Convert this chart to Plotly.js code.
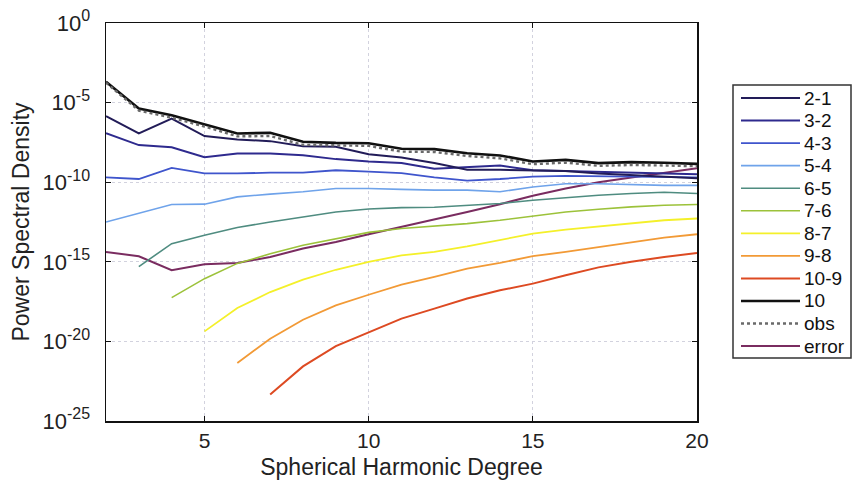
<!DOCTYPE html>
<html>
<head>
<meta charset="utf-8">
<script src="https://cdn.plot.ly/plotly-3.0.1.min.js"></script>
<style>html,body{margin:0;padding:0;background:#fff;}#chart{width:853px;height:485px;}</style>
</head>
<body>
<div id="chart"></div>
<script>
// Spherical harmonic degrees
const degrees = [2,3,4,5,6,7,8,9,10,11,12,13,14,15,16,17,18,19,20];

// Series values given as log10 of the power spectral density (null = not drawn)
const log_2_1  = [-5.85,-6.94,-6.00,-7.10,-7.32,-7.42,-7.74,-7.78,-8.24,-8.45,-8.80,-9.22,-9.22,-9.28,-9.30,-9.45,-9.55,-9.65,-9.75];
const log_3_2  = [-6.92,-7.67,-7.80,-8.43,-8.20,-8.20,-8.30,-8.55,-8.70,-8.80,-9.16,-9.07,-8.95,-9.25,-9.30,-9.35,-9.40,-9.45,-9.50];
const log_4_3  = [-9.70,-9.80,-9.10,-9.45,-9.45,-9.40,-9.40,-9.25,-9.33,-9.43,-9.70,-9.90,-9.80,-9.65,-9.60,-9.62,-9.65,-9.68,-9.70];
const log_5_4  = [-12.50,-11.95,-11.40,-11.38,-10.92,-10.75,-10.60,-10.40,-10.40,-10.45,-10.50,-10.50,-10.60,-10.30,-10.10,-10.10,-10.15,-10.20,-10.20];
const log_6_5  = [null,-15.30,-13.86,-13.33,-12.85,-12.50,-12.18,-11.87,-11.68,-11.60,-11.57,-11.45,-11.34,-11.13,-10.96,-10.82,-10.71,-10.63,-10.71];
const log_7_6  = [null,null,-17.25,-16.06,-15.10,-14.50,-13.96,-13.55,-13.15,-12.91,-12.77,-12.60,-12.39,-12.14,-11.87,-11.70,-11.55,-11.45,-11.40];
const log_8_7  = [null,null,null,-19.37,-17.90,-16.90,-16.12,-15.50,-15.00,-14.60,-14.38,-14.03,-13.65,-13.23,-12.98,-12.77,-12.56,-12.39,-12.28];
const log_9_8  = [null,null,null,null,-21.36,-19.83,-18.64,-17.74,-17.07,-16.44,-15.95,-15.43,-15.07,-14.65,-14.38,-14.07,-13.75,-13.48,-13.27];
const log_10_9 = [null,null,null,null,null,-23.33,-21.57,-20.30,-19.41,-18.57,-17.94,-17.31,-16.79,-16.37,-15.85,-15.35,-15.00,-14.70,-14.45];
const log_10   = [-3.69,-5.37,-5.79,-6.37,-6.94,-6.90,-7.46,-7.53,-7.55,-7.90,-7.92,-8.18,-8.32,-8.70,-8.60,-8.80,-8.74,-8.78,-8.85];
const log_obs  = [-3.75,-5.50,-5.95,-6.50,-7.12,-7.10,-7.65,-7.70,-7.72,-8.08,-8.10,-8.35,-8.50,-8.87,-8.77,-8.97,-8.92,-8.95,-9.00];
const log_err  = [-14.38,-14.65,-15.53,-15.16,-15.07,-14.70,-14.17,-13.75,-13.27,-12.81,-12.35,-11.87,-11.38,-10.85,-10.40,-10.00,-9.70,-9.40,-9.12];

// Tick labels
const yTickExps = [0,-5,-10,-15,-20,-25];
const yTickText = yTickExps.map(e => '10<sup><span style="font-size:16px">' + e + '</span></sup>');
const xTickVals = [5,10,15,20];

const seriesNames = ['2-1','3-2','4-3','5-4','6-5','7-6','8-7','9-8','10-9','10','obs','error'];
const seriesLogs  = [log_2_1,log_3_2,log_4_3,log_5_4,log_6_5,log_7_6,log_8_7,log_9_8,log_10_9,log_10,log_obs,log_err];
const styles = [
  {color:'#221c58', width:2},
  {color:'#2e2a8e', width:2},
  {color:'#3f55cc', width:1.8},
  {color:'#6fa3ea', width:1.6},
  {color:'#4f8c80', width:1.6},
  {color:'#9cc23a', width:1.6},
  {color:'#f4f02a', width:1.8},
  {color:'#f29a36', width:1.8},
  {color:'#dd4a22', width:2},
  {color:'#111111', width:2.6},
  {color:'#6a6a6a', width:2.4, dash:'dot'},
  {color:'#7a2c60', width:2}
];

// draw order: obs under black
const order = [11,8,7,6,5,4,3,2,1,0,9,10];
const traces = order.map(i => ({
  x: degrees,
  y: seriesLogs[i].map(v => v === null ? null : Math.pow(10, v)),
  name: seriesNames[i],
  mode: 'lines',
  line: styles[i],
  showlegend: false,
  connectgaps: false
}));

// Legend box (built as shapes + text, in paper coordinates)
const M = {l: 106, r: 156, t: 23, b: 64};
const W = 853, H = 485;
const pw = W - M.l - M.r, ph = H - M.t - M.b;
const px = v => (v - M.l) / pw;
const py = v => (H - M.b - v) / ph;
const legTop = 85, legBottom = 358, legLeft = 733, legRight = 851;
const firstY = 98, stepY = 22.55;

const shapes = [{
  type: 'rect', xref: 'paper', yref: 'paper',
  x0: px(legLeft), x1: px(legRight), y0: py(legBottom), y1: py(legTop),
  line: {color: '#333', width: 1.5}, fillcolor: '#fff', layer: 'above'
}];
const annotations = [];
seriesNames.forEach((name, i) => {
  const yy = py(firstY + i * stepY);
  shapes.push({
    type: 'line', xref: 'paper', yref: 'paper',
    x0: px(741), x1: px(800), y0: yy, y1: yy,
    line: {color: styles[i].color, width: styles[i].width, dash: styles[i].dash || 'solid'},
    layer: 'above'
  });
  annotations.push({
    xref: 'paper', yref: 'paper', x: px(802), y: yy,
    xanchor: 'left', yanchor: 'middle', showarrow: false,
    text: name, font: {size: 19, color: '#111'}
  });
});

const fam = 'Liberation Sans, Arial, Helvetica, sans-serif';

const layout = {
  width: W, height: H,
  margin: M,
  paper_bgcolor: '#fff', plot_bgcolor: '#fff',
  font: {family: fam, color: '#222', size: 21},
  showlegend: false,
  shapes: shapes,
  annotations: annotations,
  xaxis: {
    range: [2, 20],
    tickvals: xTickVals,
    ticks: 'inside', ticklen: 5, tickcolor: '#111',
    showline: true, linecolor: '#111', linewidth: 1.5, mirror: 'ticks',
    showgrid: true, gridcolor: '#d2d2de', griddash: 'dot', gridwidth: 1,
    zeroline: false,
    tickfont: {size: 21},
    title: {text: 'Spherical Harmonic Degree', font: {size: 23}, standoff: 8}
  },
  yaxis: {
    type: 'log',
    range: [-25, 0],
    tickvals: yTickExps.map(e => Math.pow(10, e)),
    ticktext: yTickText,
    ticks: 'inside', ticklen: 5, tickcolor: '#111',
    showline: true, linecolor: '#111', linewidth: 1.5, mirror: 'ticks',
    showgrid: true, gridcolor: '#d2d2de', griddash: 'dot', gridwidth: 1,
    zeroline: false,
    tickfont: {size: 22},
    ticklabelstandoff: 10,
    title: {text: 'Power Spectral Density', font: {size: 23}, standoff: 6}
  }
};

Plotly.newPlot('chart', traces, layout, {displayModeBar: false, staticPlot: true});
</script>
</body>
</html>
